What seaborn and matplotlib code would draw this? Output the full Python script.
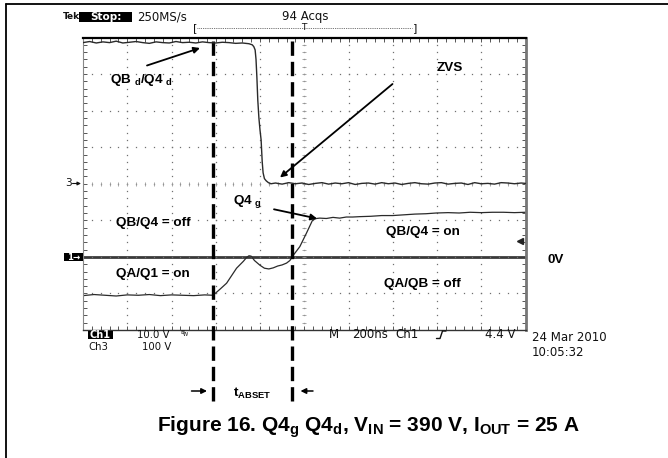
import numpy as np
import matplotlib
matplotlib.use("Agg")
import matplotlib.pyplot as plt
from matplotlib.patches import Rectangle
import seaborn as sns

# ---------------- data ----------------
# Ch3: drain voltage QBd/Q4d  (time in ns, volts; 100 V/div, zero on centre line)
drain_t = [-1000, -970, -940, -910, -880, -850, -820, -790, -760, -730, -700, -670, -640,
           -610, -580, -550, -520, -490, -460, -430, -400, -370, -340, -310, -280, -250,
           -235, -228, -222, -218, -214, -210, -205, -200, -195, -190, -186, -180, -172, -162, -150,
           -130, -100, -70, -40, -10, 20, 50, 80, 110, 140, 170, 200, 230, 260, 290, 320, 350,
           380, 410, 440, 470, 500, 530, 560, 590, 620, 650, 680, 710, 740, 770, 800, 830, 860,
           890, 920, 950, 980, 1000]
drain_v = [386, 389, 385, 388, 386, 390, 385, 387, 389, 386, 384, 388, 386,
           385, 389, 386, 387, 385, 388, 386, 385, 387, 386, 384, 385, 383,
           380, 375, 366, 340, 290, 229, 180, 147, 120, 60, 30, 14, 8, 3, 0,
           2, -1, 3, 0, 2, -2, 1, 3, -1, 2, 0, 3, -2, 1, 2, -1, 3, 0, 2, -2, 1, 3, 0, -1, 2,
           3, -1, 1, 2, -2, 3, 0, 1, -1, 3, 2, 0, 2, 1]

# Ch1: gate voltage Q4g (time in ns, volts; 10 V/div)
gate_t = [-1000, -950, -900, -850, -800, -750, -700, -650, -600, -550, -500, -450, -412,
          -380, -351, -306, -275, -261, -250, -240, -225, -200, -180, -160, -140, -120, -100,
          -80, -65, -55, -40, -20, 10, 38, 55, 70, 100, 130, 160, 190, 219, 250, 300, 350,
          400, 450, 500, 550, 597, 650, 700, 750, 800, 850, 900, 950, 1000]
gate_v = [-10.6, -10.3, -10.5, -10.7, -10.4, -10.5, -10.3, -10.6, -10.4, -10.5, -10.6, -10.4, -10.5,
          -8.8, -7.2, -3.1, -1.2, -0.2, 0.3, 0.2, -1.0, -2.3, -3.1, -3.3, -3.0, -2.5, -2.2,
          -1.7, -1.0, 0.0, 1.2, 2.8, 6.5, 10.1, 10.5, 10.6, 10.5, 10.8, 10.6, 10.9, 10.9, 11.0, 11.1, 11.3,
          11.3, 11.5, 11.7, 11.8, 12.0, 12.1, 12.0, 12.2, 12.1, 12.2, 12.2, 12.1, 12.2]

marker_times = [-413, -55]        # dashed t_ABSET cursors (ns)
trigger_level = 4.4               # Ch1 trigger level (V)

# ---------------- style ----------------
sns.set_style("white")
plt.rcParams['font.family'] = ['Liberation Sans', 'DejaVu Sans']
plt.rcParams['text.color'] = 'black'
plt.rcParams['mathtext.fontset'] = 'custom'
plt.rcParams['mathtext.rm'] = 'Liberation Sans:bold'
plt.rcParams['mathtext.it'] = 'Liberation Sans:bold'
plt.rcParams['mathtext.bf'] = 'Liberation Sans:bold'

W, H = 668, 458
fig = plt.figure(figsize=(W / 100, H / 100), dpi=100)
fig.patch.set_facecolor('white')

L, T, R, B = 83, 37.5, 525.5, 330
ax = fig.add_axes([L / W, 1 - B / H, (R - L) / W, (B - T) / H])
ax.set_xlim(-1000, 1000)
ax.set_ylim(-20, 60)        # Ch1: 10 V/div, zero two divisions below centre
ax3 = ax.twinx()
ax3.set_ylim(-400, 400)     # Ch3: 100 V/div, zero on centre
ax3.axis('off')

# graticule dots
tt, vv = np.meshgrid(np.arange(-800, 801, 200), np.arange(-20, 60.1, 2))
ax.plot(tt.ravel(), vv.ravel(), ls='none', marker='s', ms=0.9, mew=0, color='#707070')
tt, vv = np.meshgrid(np.arange(-1000, 1001, 40), np.arange(-10, 51, 10))
ax.plot(tt.ravel(), vv.ravel(), ls='none', marker='s', ms=0.9, mew=0, color='#707070')
# centre-line ticks
cx = np.arange(-1000, 1001, 40)
ax.plot(cx, np.full(cx.shape, 20.0), ls='none', marker='|', ms=3, mew=0.6, color='#9a9a9a')
cy = np.arange(-20, 60.1, 2)
ax.plot(np.zeros(cy.shape), cy, ls='none', marker='_', ms=3, mew=0.6, color='#9a9a9a')

ax.set_xticks(np.arange(-1000, 1001, 200))
ax.set_xticks(np.arange(-1000, 1001, 40), minor=True)
ax.set_yticks(np.arange(-20, 61, 10))
ax.set_yticks(np.arange(-20, 61, 2), minor=True)
ax.tick_params(which='both', direction='in', length=3, width=0.7, color='#555',
               top=True, right=True, bottom=True, left=True,
               labelbottom=False, labelleft=False)
ax.grid(False)
ax.spines['top'].set(color='black', lw=1.6)
ax.spines['bottom'].set(color='#333', lw=1.0)
ax.spines['left'].set(color='#888', lw=0.8)
ax.spines['right'].set(color='#777', lw=2.0)

# Ch1 ground reference line
ax.axhline(0, color='#3a3a3a', lw=2.0, zorder=1)

# traces
sns.lineplot(x=drain_t, y=drain_v, ax=ax3, color='#2a2a2a', lw=1.0, estimator=None, sort=False)
sns.lineplot(x=gate_t, y=gate_v, ax=ax, color='#2a2a2a', lw=0.9, estimator=None, sort=False)

# trigger level marker
ax.plot([975], [trigger_level], marker='<', ms=4.5, color='#222', ls='none')

# dashed cursors
for t in marker_times:
    ax.axvline(t, ymin=(B - 401) / (B - T), ymax=(B - 35) / (B - T), color='black', lw=2.4,
               ls=(0, (4.3, 1.8)), clip_on=False, zorder=6)

# ---------------- overlay for text / frame ----------------
ov = fig.add_axes([0, 0, 1, 1], zorder=10)
ov.set_xlim(0, W)
ov.set_ylim(H, 0)
ov.axis('off')
ov.patch.set_alpha(0)

# frame
ov.plot([5.5, 5.5], [4, H], color='black', lw=1.3)
ov.plot([5.5, W], [4, 4], color='black', lw=1.3)

scope = dict(family='DejaVu Sans', fontsize=8.5, color='#111', va='center', ha='left')
small = {**scope, 'fontsize': 7.3}

def inverse(x0, y0, w, h, s, fs):
    ov.add_patch(Rectangle((x0, y0), w, h, fc='black', ec='none'))
    ov.text(x0 + w / 2, y0 + h / 2 + 0.3, s, family='DejaVu Sans', fontsize=fs,
            weight='bold', color='white', ha='center', va='center')

ov.text(63, 16.7, 'Tek', **{**scope, 'fontsize': 6.5}, weight='bold')
inverse(79, 11.5, 53, 10.5, 'Stop:', 7.5)
ov.text(137, 16.7, '250MS/s', **scope)
ov.text(282, 16.7, '94 Acqs', **scope)

# record bracket and trigger position
ov.text(192.5, 28, '[', **{**scope, 'fontsize': 8})
ov.text(412.5, 28, ']', **{**scope, 'fontsize': 8})
ov.plot([197, 412], [28, 28], color='#444', lw=0.6, ls=(0, (1, 1.2)))
ov.text(304, 27.5, 'T', **{**scope, 'ha': 'center', 'fontsize': 6.5})

# channel markers
ov.text(65.5, 183.5, '3', **{**scope, 'fontsize': 7.6})
ov.annotate('', xy=(81, 183.5), xytext=(72.5, 183.5),
            arrowprops=dict(arrowstyle='-|>', color='#111', lw=0.8, mutation_scale=5,
                            shrinkA=0, shrinkB=0))
inverse(64, 252.5, 19, 8.5, '1\u2192', 6.2)

# bottom readouts
inverse(88, 330.8, 25, 8.6, 'Ch1', 7.0)
ov.text(137, 334.8, '10.0 V', **small)
ov.text(180, 333, 'B', **{**scope, 'fontsize': 4.5})
ov.text(183, 335, 'W', **{**scope, 'fontsize': 3.8})
ov.text(88.5, 347, 'Ch3', **small)
ov.text(142, 347, '100 V', **small)
ov.text(329, 335, 'M', **scope)
ov.text(352, 335, '200ns', **scope)
ov.text(395, 335, 'Ch1', **scope)
ov.plot([436.5, 440, 442.5, 446], [338.5, 338.5, 331, 331], color='#111', lw=1.0)
ov.text(485, 335, '4.4 V', **scope)
ov.text(532, 337.5, '24 Mar 2010', **scope)
ov.text(532, 352, '10:05:32', **scope)

# annotations
ann = dict(fontsize=9.7, weight='bold', color='black', va='baseline', ha='left')
arrow = dict(arrowstyle='-|>', color='black', lw=1.3, mutation_scale=9, shrinkA=0, shrinkB=0)

ov.text(110, 83.5, r'QB $_{\rm d}$/Q4 $_{\rm d}$', **ann)
ov.annotate('', xy=(200, 48), xytext=(147, 65.5), arrowprops=arrow)
ov.text(437, 71, 'ZVS', **ann)
ov.annotate('', xy=(280, 177.5), xytext=(392.5, 84), arrowprops=arrow)
ov.text(233, 204.3, r'Q4 $_{\rm g}$', **ann)
ov.annotate('', xy=(317, 218.5), xytext=(274, 209.3), arrowprops=arrow)
ov.text(115.5, 226, 'QB/Q4 = off', **ann)
ov.text(115.5, 277, 'QA/Q1 = on', **ann)
ov.text(386, 235.3, 'QB/Q4 = on', **ann)
ov.text(384, 287, 'QA/QB = off', **ann)
ov.text(548, 263.3, '0V', **ann)
ov.text(233, 397, r't$_{\rm ABSET}$', **ann)
ov.annotate('', xy=(207, 391), xytext=(191.5, 391), arrowprops={**arrow, 'lw': 1.1, 'mutation_scale': 8})
ov.annotate('', xy=(300.5, 391), xytext=(313, 391), arrowprops={**arrow, 'lw': 1.1, 'mutation_scale': 8})

# caption
ov.text(368, 431.5,
        r'Figure 16. Q4$_{\rm g}$ Q4$_{\rm d}$, V$_{\rm IN}$ = 390 V, I$_{\rm OUT}$ = 25 A',
        fontsize=15, weight='bold', ha='center', va='baseline', color='black')

fig.savefig('out.png', dpi=100)
